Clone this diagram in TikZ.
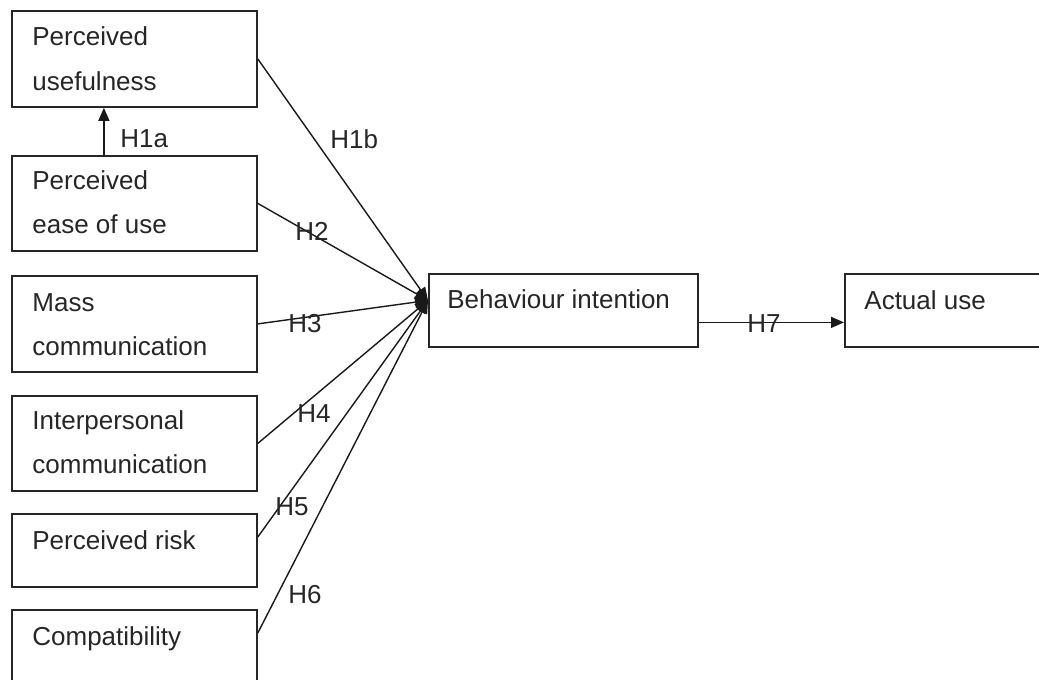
\documentclass[tikz,border=0pt]{standalone}
\usepackage{fontspec}
\setmainfont{Liberation Sans}
\usetikzlibrary{arrows.meta}

\begin{document}
\begin{tikzpicture}[x=0.5pt,y=-0.5pt,
    box/.style={draw=black!85,line width=0.9pt,rectangle,inner sep=0pt,anchor=north west,minimum width=122.5pt},
    txt/.style={inner sep=0pt,anchor=base west,align=left,text=black!85,font=\fontsize{13}{22}\selectfont},
    hyp/.style={inner sep=0pt,anchor=base west,text=black!85,font=\fontsize{13}{15}\selectfont},
    arr/.style={draw=black!90,line width=0.7pt,-{Triangle[length=6.5pt,width=5.5pt]}}]
      \useasboundingbox (0,0) rectangle (1039,680);
      \clip (0,0) rectangle (1039,680);

      % construct boxes
      \node[box,minimum height=48pt] (pu) at (11,10) {};
      \node[box,minimum height=47.5pt] (peou) at (11,155) {};
      \node[box,minimum height=48pt] (mc) at (11,275) {};
      \node[box,minimum height=47.5pt] (ic) at (11,395) {};
      \node[box,minimum height=36.5pt] (pr) at (11,513) {};
      \node[box,minimum height=48pt] (comp) at (11,609) {};
      \node[box,minimum width=134.5pt,minimum height=36.5pt] (bi) at (428,273) {};
      \node[box,minimum width=100pt,minimum height=36.5pt] (au) at (844,273) {};

      % base = last line
      \node[txt] at (32,90) {Perceived\\usefulness};
      \node[txt] at (32,233) {Perceived\\ease of use};
      \node[txt] at (32,355) {Mass\\communication};
      \node[txt] at (32,473) {Interpersonal\\communication};
      \node[txt] at (32,549) {Perceived risk};
      \node[txt] at (32,645) {Compatibility};
      \node[txt] at (447,308) {Behaviour intention};
      \node[txt] at (864,309) {Actual use};

      % hypotheses
      \coordinate (hub) at ([yshift=5pt]bi.west);
      \draw[arr] ([xshift=-15.25pt]peou.north) -- ([xshift=-15.25pt]pu.south);
      \draw[arr] (pu.east) -- (hub);
      \draw[arr] (peou.east) -- (hub);
      \draw[arr] (mc.east) -- (hub);
      \draw[arr] (ic.east) -- (hub);
      \draw[arr] ([yshift=-12pt]pr.north east) -- (hub);
      \draw[arr] ([yshift=-12pt]comp.north east) -- (hub);
      \draw[arr] ([yshift=-6pt]bi.east) -- ([yshift=-6pt]au.west);

      \node[hyp] at (120,147) {H1a};
      \node[hyp] at (330,148) {H1b};
      \node[hyp] at (295,240) {H2};
      \node[hyp] at (288,332) {H3};
      \node[hyp] at (297,422) {H4};
      \node[hyp] at (275,515) {H5};
      \node[hyp] at (288,603) {H6};
      \node[hyp] at (747,332) {H7};
    \end{tikzpicture}
\end{document}
